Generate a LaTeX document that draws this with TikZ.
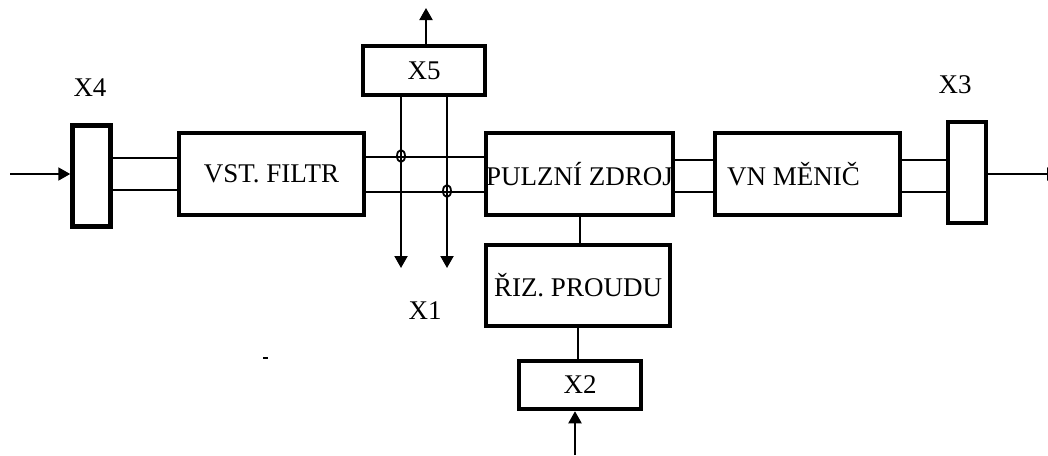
\documentclass[tikz,border=0pt]{standalone}
\usepackage{fontspec}
\setmainfont{Liberation Serif}
\usetikzlibrary{arrows.meta}
\tikzset{blok/.style={draw, line width=4.5pt, inner sep=0pt,
  minimum width=185pt, minimum height=82pt},
  svorka/.style={draw, line width=4.5pt, inner sep=0pt,
  minimum width=38pt, minimum height=101pt},
  vodic/.style={line width=2pt},
  sipka/.style={vodic, -{Triangle[length=12pt,width=13pt]}}}

\begin{document}
\begin{tikzpicture}[x=1pt, y=-1pt, font=\fontsize{27}{31}\selectfont]
  \useasboundingbox (0,0) rectangle (1048,455);
  \node[svorka] (x4) at (91.5,176) {};
  \node[blok] (vst) at (271.5,174) {VST. FILTR};
  \node[blok] (pulz) at (579.5,174) {PULZNÍ ZDROJ};
  \node[blok, label={[xshift=-14pt]center:VN MĚNIČ}] (vn) at (807.5,174) {};
  \node[svorka] (x3) at (967,172.5) {};
  \node[blok, minimum width=122pt, minimum height=49pt] (x5) at (424,70.5) {X5};
  \node[blok, minimum width=184pt, minimum height=81pt] (riz) at (578,285.5) {ŘIZ. PROUDU};
  \node[blok, minimum width=122pt, minimum height=48pt] (x2) at (580,385) {X2};
  \node (lx4) at (90,88) {X4};
  \node (lx3) at (955,85) {X3};
  \node (lx1) at (425,311) {X1};
  \coordinate (vstup) at (10,174);
  \coordinate (vystup) at (1059,174);
  \coordinate (vystup5) at (426,8);
  \coordinate (vstup2) at (575,455);
  \coordinate (x1a) at (401,268);
  \coordinate (x1b) at (447,268);
  \draw[sipka] (vstup) -- (x4.west |- vstup);       % vstup
  \draw[vodic] (x4.east |- 0,158) -- (vst.west |- 0,158);
  \draw[vodic] (x4.east |- 0,190) -- (vst.west |- 0,190);
  \draw[vodic] (vst.east |- 0,157) -- (pulz.west |- 0,157);
  \draw[vodic] (vst.east |- 0,192) -- (pulz.west |- 0,192);
  \draw[vodic] (pulz.east |- 0,160) -- (vn.west |- 0,160);
  \draw[vodic] (pulz.east |- 0,192) -- (vn.west |- 0,192);
  \draw[vodic] (vn.east |- 0,160) -- (x3.west |- 0,160);
  \draw[vodic] (vn.east |- 0,192) -- (x3.west |- 0,192);
  \draw[sipka] (x3.east |- vystup) -- (vystup);     % vystup
  \draw[sipka] (x5.south -| x1a) -- (x1a);          % X1
  \draw[sipka] (x5.south -| x1b) -- (x1b);
  \draw[line width=1.8pt] (401,156) ellipse [x radius=4pt, y radius=6pt];
  \draw[line width=1.8pt] (447,191) ellipse [x radius=4pt, y radius=6pt];
  \draw[sipka] (x5.north -| vystup5) -- (vystup5);  % X5
  \draw[vodic] (pulz.south) -- (pulz.south |- riz.north);
  \draw[vodic] (riz.south) -- (riz.south |- x2.north);
  \draw[sipka] (vstup2) -- (x2.south -| vstup2);    % X2
  \draw[line width=2.5pt] (263,358) -- (268,358);
\end{tikzpicture}
\end{document}
